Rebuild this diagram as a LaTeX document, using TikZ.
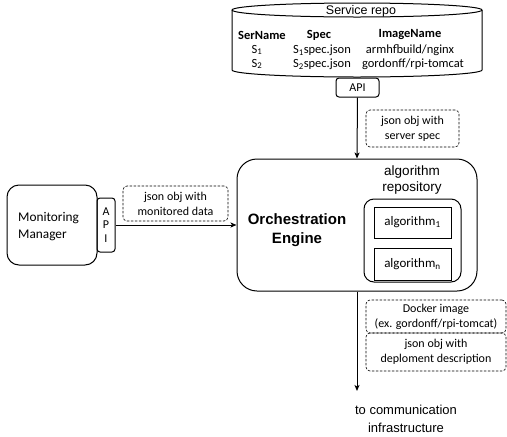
\documentclass[tikz,border=0pt]{standalone}
\usepackage{fontspec}
\setmainfont{Carlito}
\newfontfamily\arial{Liberation Sans}
\usetikzlibrary{arrows.meta}
\tikzset{
  box/.style={draw, line width=1pt, inner sep=0pt, align=center},
  dbox/.style={draw, dash pattern=on 2.5pt off 1.5pt, line width=0.6pt, rounded corners=4pt, inner sep=0pt, align=center, font=\fontsize{12}{15}\selectfont},
  arr/.style={line width=1pt, -{Stealth[length=6pt,width=5pt,inset=1.5pt]}},
  cal/.style={inner sep=0pt, font=\fontsize{12.5}{15}\selectfont},
  calb/.style={inner sep=0pt, font=\fontsize{12.5}{15}\selectfont\bfseries},
}
\begin{document}
\begin{tikzpicture}[x=1pt,y=-1pt]
\useasboundingbox (0,0) rectangle (507,437);
% cylinder
\draw[line width=1pt] (357,10) ellipse [x radius=125, y radius=7];
\draw[line width=1pt] (232,10) -- (232,70) arc[start angle=180, end angle=0, x radius=125, y radius=7] -- (482,10);
\node[inner sep=0pt, font=\arial\fontsize{12.5}{15}\selectfont] (repo) at (361,11) {Service repo};
\node[calb] (h1) at (262,35) {SerName};
\node[calb] (h2) at (319,35) {Spec};
\node[calb] (h3) at (410,35) {ImageName};
\node[cal] (r11) at (257,50) {S\textsubscript{1}};
\node[cal] (r12) at (322,50) {S\textsubscript{1}spec.json};
\node[cal] (r13) at (410,50) {armhfbuild/nginx};
\node[cal] (r21) at (257,64) {S\textsubscript{2}};
\node[cal] (r22) at (322,64) {S\textsubscript{2}spec.json};
\node[cal] (r23) at (413,64) {gordonff/rpi-tomcat};
% API of repo
\node[box, rounded corners=3pt, minimum width=43pt, minimum height=19pt, font=\fontsize{12}{14}\selectfont] (api) at (357.5,87.5) {API};
% orchestration engine
\node[box, rounded corners=20pt, minimum width=240pt, minimum height=132pt] (oe) at (357,225) {};
\node[inner sep=0pt, align=center, font=\arial\fontsize{15}{19}\selectfont\bfseries] (oet) at (297,230) {Orchestration\\Engine};
\node[inner sep=0pt, align=center, font=\arial\fontsize{13.5}{16}\selectfont] (art) at (412,180) {algorithm\\repository};
\node[box, rounded corners=10pt, minimum width=97pt, minimum height=83pt] (ar) at (412.5,240.5) {};
\node[box, minimum width=77pt, minimum height=31pt, font=\fontsize{13}{15}\selectfont] (a1) at (412.5,222.5) {algorithm\textsubscript{1}};
\node[box, minimum width=77pt, minimum height=32pt, font=\fontsize{13}{15}\selectfont] (an) at (412.5,264) {algorithm\textsubscript{n}};
% monitoring manager
\node[box, rounded corners=12pt, minimum width=90pt, minimum height=80pt] (mm) at (52,225) {};
\node[inner sep=0pt, align=left, anchor=west, font=\fontsize{13.3}{17}\selectfont] (mmt) at (18,226.5) {Monitoring\\Manager};
\node[box, rounded corners=3pt, minimum width=18pt, minimum height=54pt, font=\fontsize{12}{13.5}\selectfont] (mapi) at (106,225) {A\\P\\I};
% dashed labels
\node[dbox, minimum width=105pt, minimum height=35pt] (d1) at (175.5,203.5) {json obj with\\monitored data};
\node[dbox, minimum width=93pt, minimum height=37pt] (d2) at (412.5,128.5) {json obj with\\server spec};
\node[dbox, minimum width=140pt, minimum height=33pt] (d3) at (436,316.5) {Docker image\\(ex. gordonff/rpi-tomcat)};
\node[dbox, minimum width=140pt, minimum height=38pt] (d4) at (436,352) {json obj with\\deploment description};
% connectors
\draw[arr] (api.south) -- (oe.north);
\draw[arr] (mapi.east) -- (oe.west);
\coordinate (end) at (357,391);
\draw[arr] (oe.south) -- (end);
\node[inner sep=0pt, align=center, font=\arial\fontsize{13}{18}\selectfont] (comm) at (406,419) {to communication\\infrastructure};
\end{tikzpicture}
\end{document}
